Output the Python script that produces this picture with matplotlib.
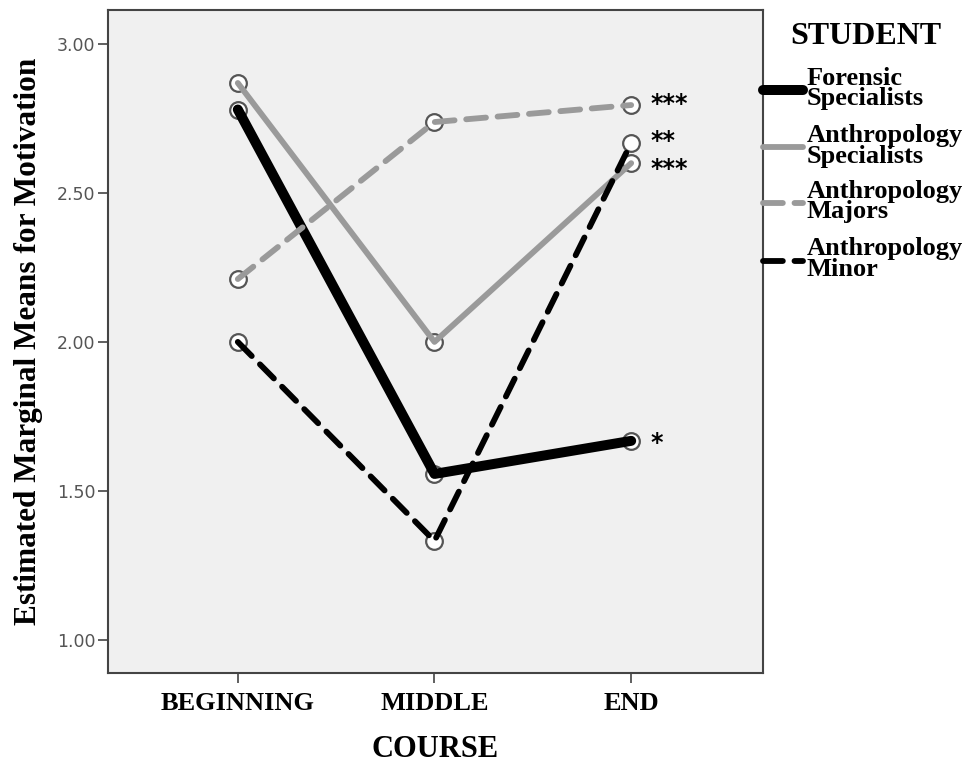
import matplotlib
matplotlib.use("Agg")
import matplotlib.pyplot as plt
from matplotlib.lines import Line2D

# data
course = ["BEGINNING", "MIDDLE", "END"]
forensic_spec = [2.78, 1.557, 1.668]
anthro_spec = [2.869, 2.00, 2.60]
anthro_majors = [2.211, 2.738, 2.795]
anthro_minor = [2.00, 1.332, 2.668]
stars = ["*", "***", "***", "**"]

names = ["Forensic\nSpecialists", "Anthropology\nSpecialists",
         "Anthropology\nMajors", "Anthropology\nMinor"]
series = [forensic_spec, anthro_spec, anthro_majors, anthro_minor]
colors = ["black", "#9a9a9a", "#9a9a9a", "black"]
widths = [7.2, 4.2, 4.2, 4.2]
styles = ["-", "-", (0, (3.4, 2.0)), (0, (3.4, 2.0))]
star_dy = [-1.5, -4.5, 0.5, 1.5]

serif = ["Liberation Serif", "DejaVu Serif"]

fig = plt.figure(figsize=(9.66, 7.63), dpi=100)
ax = fig.add_axes([0.1118, 0.1180, 0.678, 0.8689])
ax.set_facecolor("#f0f0f0")

x = list(range(len(course)))
for i in range(len(series)):
    ax.plot(x, series[i], linestyle="none", marker="o", markersize=12,
            markerfacecolor="white", markeredgecolor="#555555",
            markeredgewidth=1.6, zorder=2)
for i in range(len(series)):
    ax.plot(x, series[i], color=colors[i], linewidth=widths[i],
            linestyle=styles[i], solid_capstyle="round",
            dash_capstyle="round", zorder=3)
    ax.annotate(stars[i], (x[-1], series[i][-1]), xytext=(14, star_dy[i]),
                textcoords="offset points", fontsize=17, fontweight="bold",
                color="black", va="center")

ax.set_xlim(-0.66, 2.67)
ax.set_ylim(0.889, 3.114)
ax.set_xticks(x)
ax.set_xticklabels(course, family=serif, fontweight="bold", fontsize=19)
ax.set_yticks([1.0, 1.5, 2.0, 2.5, 3.0])
ax.set_yticklabels(["1.00", "1.50", "2.00", "2.50", "3.00"],
                   fontsize=12.5, color="#555555")
ax.tick_params(axis="both", direction="out", length=7, width=1.2,
               color="#444444")
ax.tick_params(axis="x", pad=7)
ax.tick_params(axis="y", pad=2)
for s in ax.spines.values():
    s.set_color("#444444")
    s.set_linewidth(1.5)

ax.set_xlabel("COURSE", family=serif, fontweight="bold", fontsize=22,
              labelpad=14)
ax.set_ylabel("Estimated Marginal Means for Motivation", family=serif,
              fontweight="bold", fontsize=22.5, labelpad=10)

# legend drawn beside the axes
fig.text(0.818, 0.952, "STUDENT", family=serif, fontweight="bold",
         fontsize=23, va="center", ha="left")
line_y = [0.882, 0.807, 0.734, 0.658]
for i in range(len(names)):
    fig.add_artist(Line2D([0.79, 0.831], [line_y[i], line_y[i]],
                          color=colors[i], linewidth=widths[i],
                          linestyle=styles[i], solid_capstyle="round",
                          dash_capstyle="round"))
    fig.text(0.835, line_y[i] + 0.002, names[i], family=serif,
             fontweight="bold", fontsize=19, va="center", ha="left",
             linespacing=0.88)

fig.savefig("out.png", dpi=100)
